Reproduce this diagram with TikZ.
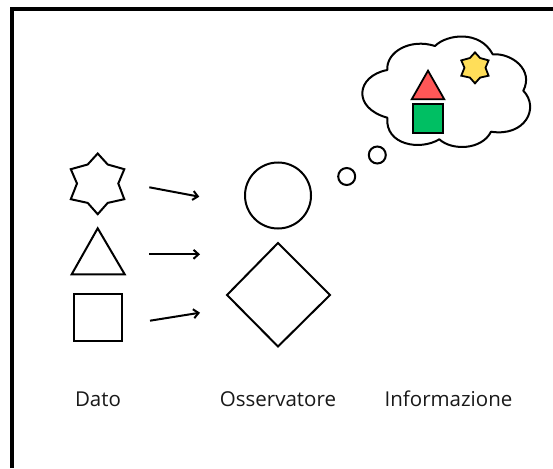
\documentclass[tikz,border=0pt]{standalone}
\usepackage{fontspec}
\setmainfont{Open Sans}
\usetikzlibrary{arrows.meta}
\definecolor{hred}{HTML}{FF5757}
\definecolor{hgreen}{HTML}{00BF63}
\definecolor{hyellow}{HTML}{FFDE59}
\tikzset{
  shapeline/.style={draw=black,line width=2pt,line join=miter},
  smallshape/.style={draw=black,line width=1.8pt,line join=miter},
  flow/.style={draw=black,line width=2pt,-{Straight Barb[length=5pt,width=9pt,line width=2pt]}},
  caption/.style={font=\fontsize{20.5}{24}\selectfont,text=black!90,anchor=base,inner sep=0pt},
  frameline/.style={draw=black,line width=4pt}
}
\newcommand{\sixstar}{(0,-30) -- (10,-19) -- (26.6,-14.3) -- (20.6,0) -- (26.6,15.7) -- (10,19.4) -- (0,30.7) -- (-10,19.4) -- (-26.9,15.7) -- (-20.7,0) -- (-26.9,-14.3) -- (-10,-19) -- cycle}
\begin{document}
\begin{tikzpicture}[x=1pt,y=-1pt]
\useasboundingbox (0,0) rectangle (553,468);
\fill[white] (0,0) rectangle (553,468);
% frame
\coordinate (fb) at (12,468); \coordinate (fc) at (12,9); \coordinate (fr) at (553,9);
\draw[frameline,line join=miter] (fb) -- (fc) -- (fr);
% data shapes
\begin{scope}[shift={(97.7,183.5)}]
\draw[shapeline] \sixstar;
\end{scope}
\draw[shapeline] (97.7,228.3) -- (124.7,274.3) -- (71.7,274.3) -- cycle;
\draw[shapeline] (74,293.7) rectangle (121.7,341.3);
% arrows
\coordinate (a1s) at (149.3,187.3); \coordinate (a1e) at (199.3,196.7);
\coordinate (a2s) at (149.3,254.3); \coordinate (a2e) at (200,254.3);
\coordinate (a3s) at (150,320.7);   \coordinate (a3e) at (200,312.7);
\draw[flow] (a1s) -- (a1e);
\draw[flow] (a2s) -- (a2e);
\draw[flow] (a3s) -- (a3e);
% observer
\draw[shapeline] (278,195.5) circle (33);
\draw[shapeline] (278,243) -- (330,295) -- (278,346.5) -- (227,295) -- cycle;
% thought bubbles
\draw[shapeline] (346.7,176.5) circle (8.5);
\draw[shapeline] (377.3,155) circle (8.5);
% cloud
\draw[shapeline,line join=round]
  (387.3,70) .. controls (386,52) and (410,38) .. (435,46)
  .. controls (447,34) and (480,30) .. (492.7,54.3)
  .. controls (512,53) and (534,70) .. (523.3,90.7)
  .. controls (540,108) and (525,137) .. (491,131.7)
  .. controls (482,150) and (452,151) .. (439.3,139.3)
  .. controls (420,151) and (385,145) .. (387.3,117.7)
  .. controls (352,108) and (356,76) .. (387.3,70) -- cycle;
% information shapes
\draw[smallshape,fill=hred] (428,70.7) -- (444.3,99.3) -- (411.7,99.3) -- cycle;
\draw[smallshape,fill=hgreen] (413.3,104.3) rectangle (443,133);
\begin{scope}[shift={(475,67.7)},scale=0.51]
\draw[smallshape,fill=hyellow] \sixstar;
\end{scope}
% captions
\node[caption] (dato) at (98,406) {Dato};
\node[caption] (oss) at (278,406) {Osservatore};
\node[caption] (inf) at (448.5,406) {Informazione};
\end{tikzpicture}
\end{document}
